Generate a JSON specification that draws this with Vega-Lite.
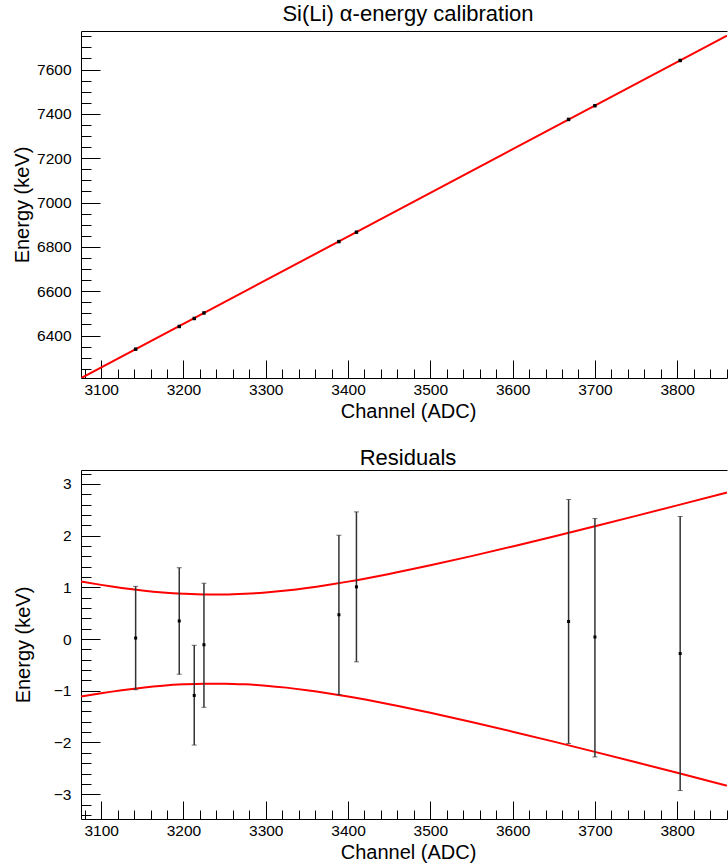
{
  "$schema": "https://vega.github.io/schema/vega-lite/v6.json",
  "padding": {"left": 12, "top": 3, "right": 0, "bottom": 0},
  "config": {
    "view": {"stroke": null},
    "font": "Liberation Sans",
    "axis": {
      "grid": false,
      "labelFont": "Liberation Sans",
      "labelFontSize": 15.5,
      "labelColor": "black",
      "titleFont": "Liberation Sans",
      "titleFontSize": 20,
      "titleFontWeight": "normal",
      "titleColor": "black",
      "domainColor": "black",
      "tickColor": "black",
      "labelFlush": false,
      "labelOverlap": false,
      "format": "d"
    },
    "title": {"font": "Liberation Sans", "fontSize": 22, "fontWeight": "normal", "color": "black"}
  },
  "datasets": {
    "pts": [
      {"ch": 3141.9, "E": 6338.5, "res": 0.02, "lo": -0.98, "hi": 1.02},
      {"ch": 3194.9, "E": 6441.0, "res": 0.35, "lo": -0.68, "hi": 1.38},
      {"ch": 3213.1, "E": 6477.0, "res": -1.09, "lo": -2.05, "hi": -0.12},
      {"ch": 3224.9, "E": 6502.0, "res": -0.11, "lo": -1.32, "hi": 1.08},
      {"ch": 3388.9, "E": 6824.0, "res": 0.47, "lo": -1.07, "hi": 2.01},
      {"ch": 3410.2, "E": 6866.3, "res": 1.01, "lo": -0.44, "hi": 2.46},
      {"ch": 3668.0, "E": 7375.0, "res": 0.34, "lo": -2.02, "hi": 2.70},
      {"ch": 3700.0, "E": 7437.0, "res": 0.04, "lo": -2.28, "hi": 2.33},
      {"ch": 3803.6, "E": 7641.0, "res": -0.28, "lo": -2.93, "hi": 2.37}
    ],
    "fit": [
      {"ch": 3076.0, "E": 6208.7},
      {"ch": 3860.5, "E": 7753.4}
    ],
    "band": [
      {"ch": 3075.5, "up": 1.112, "dn": -1.112},
      {"ch": 3100, "up": 1.048, "dn": -1.048},
      {"ch": 3125, "up": 0.990, "dn": -0.990},
      {"ch": 3150, "up": 0.941, "dn": -0.941},
      {"ch": 3175, "up": 0.902, "dn": -0.902},
      {"ch": 3200, "up": 0.876, "dn": -0.876},
      {"ch": 3225, "up": 0.862, "dn": -0.862},
      {"ch": 3250, "up": 0.862, "dn": -0.862},
      {"ch": 3275, "up": 0.875, "dn": -0.875},
      {"ch": 3300, "up": 0.901, "dn": -0.901},
      {"ch": 3325, "up": 0.939, "dn": -0.939},
      {"ch": 3350, "up": 0.988, "dn": -0.988},
      {"ch": 3375, "up": 1.046, "dn": -1.046},
      {"ch": 3400, "up": 1.111, "dn": -1.111},
      {"ch": 3450, "up": 1.260, "dn": -1.260},
      {"ch": 3500, "up": 1.426, "dn": -1.426},
      {"ch": 3550, "up": 1.604, "dn": -1.604},
      {"ch": 3600, "up": 1.791, "dn": -1.791},
      {"ch": 3650, "up": 1.984, "dn": -1.984},
      {"ch": 3700, "up": 2.182, "dn": -2.182},
      {"ch": 3750, "up": 2.383, "dn": -2.383},
      {"ch": 3800, "up": 2.586, "dn": -2.586},
      {"ch": 3860.5, "up": 2.835, "dn": -2.835}
    ]
  },
  "spacing": 25,
  "vconcat": [
    {
      "width": 646,
      "height": 347,
      "title": {"text": "Si(Li) α-energy calibration", "dx": 4, "offset": 5},
      "resolve": {"axis": {"x": "independent", "y": "independent"}},
      "layer": [
        {
          "data": {"name": "fit"},
          "mark": {"type": "line", "color": "#ff0000", "strokeWidth": 2, "clip": true},
          "encoding": {
            "x": {"field": "ch", "type": "quantitative",
              "scale": {"domain": [3075.5, 3860.5], "nice": false, "zero": false},
              "axis": {"orient": "bottom", "values": [3100, 3200, 3300, 3400, 3500, 3600, 3700, 3800],
                "tickSize": -18, "labelPadding": 22, "title": "Channel (ADC)", "titleX": 327, "titlePadding": 4}},
            "y": {"field": "E", "type": "quantitative",
              "scale": {"domain": [6208.5, 7774], "nice": false, "zero": false},
              "axis": {"orient": "left", "values": [6400, 6600, 6800, 7000, 7200, 7400, 7600],
                "tickSize": -19, "labelPadding": 29, "title": "Energy (keV)", "titlePadding": 4}}
          }
        },
        {
          "data": {"name": "pts"},
          "mark": {"type": "square", "color": "black", "size": 12, "opacity": 1},
          "encoding": {
            "x": {"field": "ch", "type": "quantitative",
              "scale": {"domain": [3075.5, 3860.5], "nice": false, "zero": false},
              "axis": {"orient": "bottom", "values": [3080, 3120, 3140, 3160, 3180, 3220, 3240, 3260, 3280, 3320, 3340, 3360, 3380, 3420, 3440, 3460, 3480, 3520, 3540, 3560, 3580, 3620, 3640, 3660, 3680, 3720, 3740, 3760, 3780, 3820, 3840, 3860],
                "tickSize": -9, "labels": false, "domain": false, "title": null}},
            "y": {"field": "E", "type": "quantitative",
              "scale": {"domain": [6208.5, 7774], "nice": false, "zero": false},
              "axis": {"orient": "left", "values": [6250, 6300, 6350, 6450, 6500, 6550, 6650, 6700, 6750, 6850, 6900, 6950, 7050, 7100, 7150, 7250, 7300, 7350, 7450, 7500, 7550, 7650, 7700, 7750],
                "tickSize": -10, "labels": false, "domain": false, "title": null}}
          }
        },
        {
          "data": {"name": "pts"},
          "mark": {"type": "point", "opacity": 0},
          "encoding": {
            "x": {"field": "ch", "type": "quantitative",
              "scale": {"domain": [3075.5, 3860.5], "nice": false, "zero": false},
              "axis": {"orient": "top", "labels": false, "ticks": false, "domain": true, "title": null}},
            "y": {"field": "E", "type": "quantitative",
              "scale": {"domain": [6208.5, 7774], "nice": false, "zero": false},
              "axis": null}
          }
        }
      ]
    },
    {
      "width": 646,
      "height": 349,
      "title": {"text": "Residuals", "dx": 4, "offset": 0},
      "resolve": {"axis": {"x": "independent", "y": "independent"}},
      "layer": [
        {
          "data": {"name": "band"},
          "mark": {"type": "line", "color": "#ff0000", "strokeWidth": 2, "interpolate": "monotone"},
          "encoding": {
            "x": {"field": "ch", "type": "quantitative",
              "scale": {"domain": [3075.5, 3860.5], "nice": false, "zero": false},
              "axis": {"orient": "bottom", "values": [3100, 3200, 3300, 3400, 3500, 3600, 3700, 3800],
                "tickSize": -18, "labelPadding": 22, "title": "Channel (ADC)", "titleX": 327, "titlePadding": 4}},
            "y": {"field": "up", "type": "quantitative",
              "scale": {"domain": [-3.48, 3.27], "nice": false, "zero": false},
              "axis": {"orient": "left", "values": [-3, -2, -1, 0, 1, 2, 3],
                "tickSize": -19, "labelPadding": 29, "title": "Energy (keV)", "titlePadding": 4, "minExtent": 44}}
          }
        },
        {
          "data": {"name": "band"},
          "mark": {"type": "line", "color": "#ff0000", "strokeWidth": 2, "interpolate": "monotone"},
          "encoding": {
            "x": {"field": "ch", "type": "quantitative",
              "scale": {"domain": [3075.5, 3860.5], "nice": false, "zero": false},
              "axis": {"orient": "bottom", "values": [3080, 3120, 3140, 3160, 3180, 3220, 3240, 3260, 3280, 3320, 3340, 3360, 3380, 3420, 3440, 3460, 3480, 3520, 3540, 3560, 3580, 3620, 3640, 3660, 3680, 3720, 3740, 3760, 3780, 3820, 3840, 3860],
                "tickSize": -9, "labels": false, "domain": false, "title": null}},
            "y": {"field": "dn", "type": "quantitative",
              "scale": {"domain": [-3.48, 3.27], "nice": false, "zero": false},
              "axis": {"orient": "left", "values": [-3.4, -3.2, -2.8, -2.6, -2.4, -2.2, -1.8, -1.6, -1.4, -1.2, -0.8, -0.6, -0.4, -0.2, 0.2, 0.4, 0.6, 0.8, 1.2, 1.4, 1.6, 1.8, 2.2, 2.4, 2.6, 2.8, 3.2],
                "tickSize": -10, "labels": false, "domain": false, "title": null}}
          }
        },
        {
          "mark": {"type": "rule", "color": "#ff0000", "strokeWidth": 2},
          "encoding": {
            "y": {"datum": 0, "type": "quantitative",
              "scale": {"domain": [-3.48, 3.27], "nice": false, "zero": false},
              "axis": null}
          }
        },
        {
          "data": {"name": "pts"},
          "mark": {"type": "rule", "color": "#333333", "strokeWidth": 1.5},
          "encoding": {
            "x": {"field": "ch", "type": "quantitative",
              "scale": {"domain": [3075.5, 3860.5], "nice": false, "zero": false},
              "axis": {"orient": "top", "labels": false, "ticks": false, "domain": true, "title": null}},
            "y": {"field": "lo", "type": "quantitative",
              "scale": {"domain": [-3.48, 3.27], "nice": false, "zero": false},
              "axis": null},
            "y2": {"field": "hi"}
          }
        },
        {
          "data": {"name": "pts"},
          "mark": {"type": "tick", "orient": "horizontal", "color": "#333333", "size": 5, "thickness": 1},
          "encoding": {
            "x": {"field": "ch", "type": "quantitative",
              "scale": {"domain": [3075.5, 3860.5], "nice": false, "zero": false}, "axis": null},
            "y": {"field": "hi", "type": "quantitative",
              "scale": {"domain": [-3.48, 3.27], "nice": false, "zero": false}, "axis": null}
          }
        },
        {
          "data": {"name": "pts"},
          "mark": {"type": "tick", "orient": "horizontal", "color": "#333333", "size": 5, "thickness": 1},
          "encoding": {
            "x": {"field": "ch", "type": "quantitative",
              "scale": {"domain": [3075.5, 3860.5], "nice": false, "zero": false}, "axis": null},
            "y": {"field": "lo", "type": "quantitative",
              "scale": {"domain": [-3.48, 3.27], "nice": false, "zero": false}, "axis": null}
          }
        },
        {
          "data": {"name": "pts"},
          "mark": {"type": "square", "color": "black", "size": 9, "opacity": 1},
          "encoding": {
            "x": {"field": "ch", "type": "quantitative",
              "scale": {"domain": [3075.5, 3860.5], "nice": false, "zero": false}, "axis": null},
            "y": {"field": "res", "type": "quantitative",
              "scale": {"domain": [-3.48, 3.27], "nice": false, "zero": false}, "axis": null}
          }
        }
      ]
    }
  ]
}
